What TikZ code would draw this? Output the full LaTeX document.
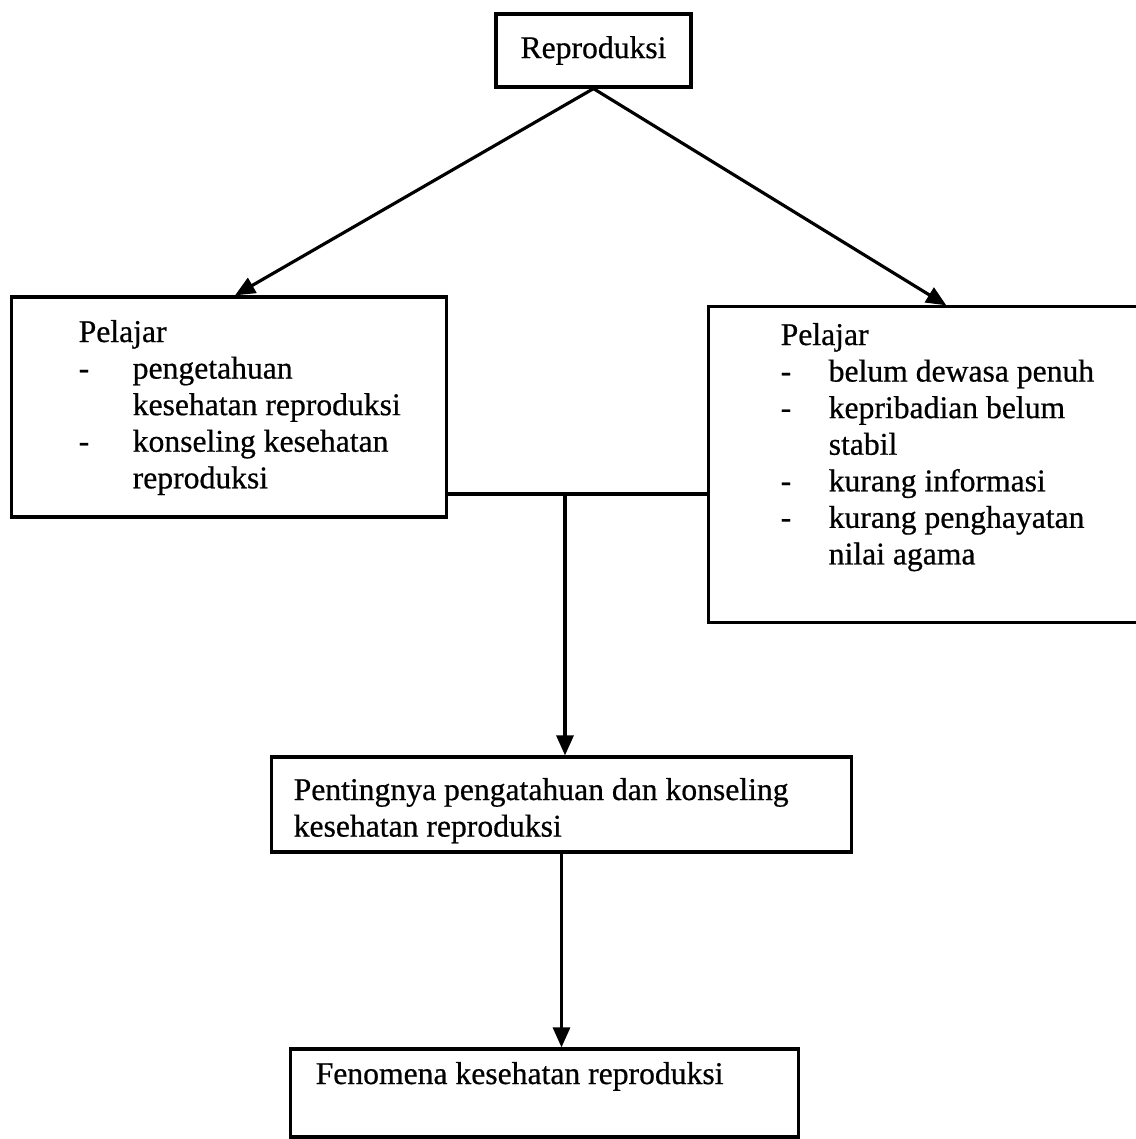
\documentclass[tikz,border=0pt]{standalone}
\usepackage{fontspec}
\setmainfont{Liberation Serif}[FakeBold=0.6]
\usetikzlibrary{arrows.meta,calc}

\tikzset{
  kotak/.style={draw, line width=0.9pt, inner sep=0pt},
  isi/.style={anchor=base west, inner sep=0pt, align=left, font=\fontsize{9}{10.4}\selectfont},
  panah/.style={line width=0.9pt, -{Triangle[length=0.2cm,width=0.17cm]}}
}

\begin{document}
\begin{tikzpicture}[x=0.01cm, y=-0.01cm]
  \useasboundingbox (0,0) rectangle (1136,1139);

  %%%%% KOTAK %%%%%
  \node[kotak, minimum width=1.95cm, minimum height=0.73cm,
        font=\fontsize{9}{10.4}\selectfont] (repro) at (593.5,50.5) {Reproduksi};

  \node[kotak, minimum width=4.34cm, minimum height=2.2cm] (kiri) at (229,407) {};
  \node[isi] (kiriisi) at (78,342) {%
    \begin{tabular}[t]{@{}p{0.54cm}@{}l@{}}
      \multicolumn{2}{@{}l@{}}{Pelajar}\\
      - & pengetahuan\\
        & kesehatan reproduksi\\
      - & konseling kesehatan\\
        & reproduksi
    \end{tabular}};

  \node[kotak, minimum width=4.6cm, minimum height=3.15cm] (kanan) at (939,464.5) {};
  \node[isi] (kananisi) at (780,345) {%
    \begin{tabular}[t]{@{}p{0.48cm}@{}l@{}}
      \multicolumn{2}{@{}l@{}}{Pelajar}\\
      - & belum dewasa penuh\\
      - & kepribadian belum\\
        & stabil\\
      - & kurang informasi\\
      - & kurang penghayatan\\
        & nilai agama
    \end{tabular}};

  \node[kotak, minimum width=5.79cm, minimum height=0.95cm] (tengah) at (561.5,804.5) {};
  \node[isi] (tengahisi) at (293,800) {%
    \begin{tabular}[t]{@{}l@{}}
      Pentingnya pengatahuan dan konseling\\
      kesehatan reproduksi
    \end{tabular}};

  \node[kotak, minimum width=5.07cm, minimum height=0.88cm] (bawah) at (544.5,1093) {};
  \node[isi] (bawahisi) at (315,1084) {Fenomena kesehatan reproduksi};

  %%%%% PANAH %%%%%
  \draw[panah] (repro.south) -- ($(kiri.north)+(6,0)$);
  \draw[panah] (repro.south) -- ($(kanan.north west)+(239,0)$);

  \coordinate (simpul) at (565,494);
  \draw[line width=0.9pt] (simpul -| kiri.east) -- (simpul -| kanan.west);
  \draw[panah] (simpul) -- (simpul |- tengah.north);
  \draw[panah] (tengah.south) -- (tengah.south |- bawah.north);
\end{tikzpicture}
\end{document}
